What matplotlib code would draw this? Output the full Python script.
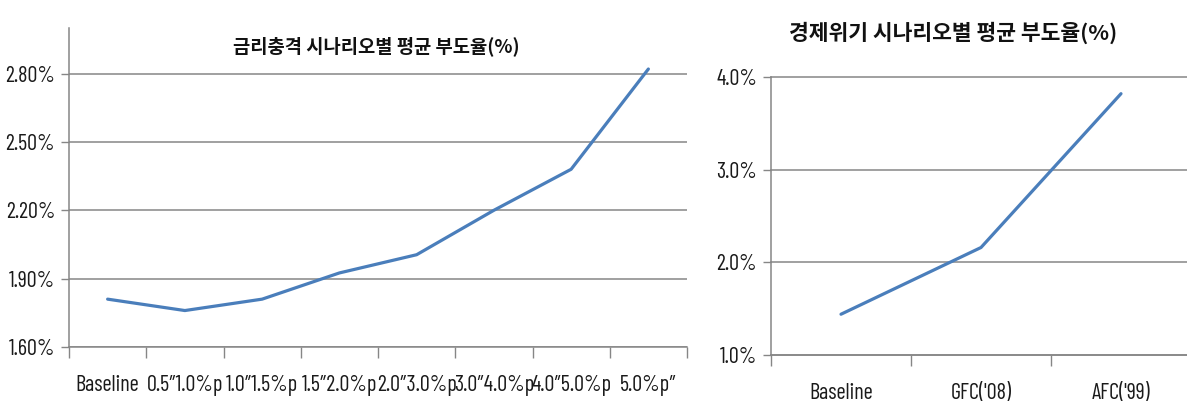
import matplotlib
matplotlib.use("Agg")
import matplotlib.pyplot as plt

# data
rate_labels = ["Baseline", "0.5″1.0%p", "1.0″1.5%p", "1.5″2.0%p", "2.0″3.0%p",
               "3.0″4.0%p", "4.0″5.0%p", "5.0%p″"]
rate_values = [1.81, 1.76, 1.81, 1.925, 2.005, 2.20, 2.38, 2.82]
rate_ticks = [1.60, 1.90, 2.20, 2.50, 2.80]

crisis_labels = ["Baseline", "GFC('08)", "AFC('99)"]
crisis_values = [1.44, 2.16, 3.82]
crisis_ticks = [1.0, 2.0, 3.0, 4.0]

title_left = "금리충격 시나리오별 평균 부도율(%)"
title_right = "경제위기 시나리오별 평균 부도율(%)"

tick_font = ["Barlow Condensed", "DejaVu Sans"]
kr_font = ["Noto Sans CJK KR", "DejaVu Sans"]

line_color = "#4A7EBB"
grid_color = "#868686"

fig = plt.figure(figsize=(11.87, 4.03), dpi=100)


def draw(ax, labels, values, ticks, ylim, fmt, title, tsize, tx, ty):
    x = list(range(len(labels)))
    ax.plot(x, values, color=line_color, lw=2.3, solid_capstyle="round", zorder=3)
    ax.set_xlim(-0.5, len(labels) - 0.5)
    ax.set_ylim(*ylim)
    ax.set_yticks(ticks)
    ax.set_yticklabels([fmt.format(t) for t in ticks], family=tick_font, fontsize=16, color="#1a1a1a")
    ax.set_xticks(x)
    ax.set_xticklabels(labels, family=tick_font, fontsize=16, color="#1a1a1a")
    ax.set_xticks([i - 0.5 for i in range(len(labels) + 1)], minor=True)
    ax.tick_params(axis="x", which="major", length=0, pad=20)
    ax.tick_params(axis="x", which="minor", length=8, width=1, color=grid_color)
    ax.tick_params(axis="y", length=6, width=1, color=grid_color, pad=4)
    ax.grid(axis="y", color=grid_color, lw=1.1, zorder=1)
    for s in ["top", "right"]:
        ax.spines[s].set_visible(False)
    for s in ["left", "bottom"]:
        ax.spines[s].set_color(grid_color)
        ax.spines[s].set_linewidth(1.1)
    ax.set_facecolor("none")
    fig.text(tx, ty, title, family=kr_font, fontsize=tsize, fontweight="bold",
             ha="center", va="center", color="#111111")


ax1 = fig.add_axes([69 / 1187, 56 / 403, 618 / 1187, 319 / 403])
draw(ax1, rate_labels, rate_values, rate_ticks, (1.60, 3.0), "{:.2f}%",
     title_left, 13.5, 376 / 1187, 1 - 46 / 403)

ax2 = fig.add_axes([771 / 1187, 48 / 403, 420 / 1187, 278 / 403])
draw(ax2, crisis_labels, crisis_values, crisis_ticks, (1.0, 4.0), "{:.1f}%",
     title_right, 15.5, 953 / 1187, 1 - 33 / 403)
for gl in ax2.get_ygridlines():
    gl.set_clip_on(False)

fig.savefig("out.png", dpi=100, facecolor="white")
